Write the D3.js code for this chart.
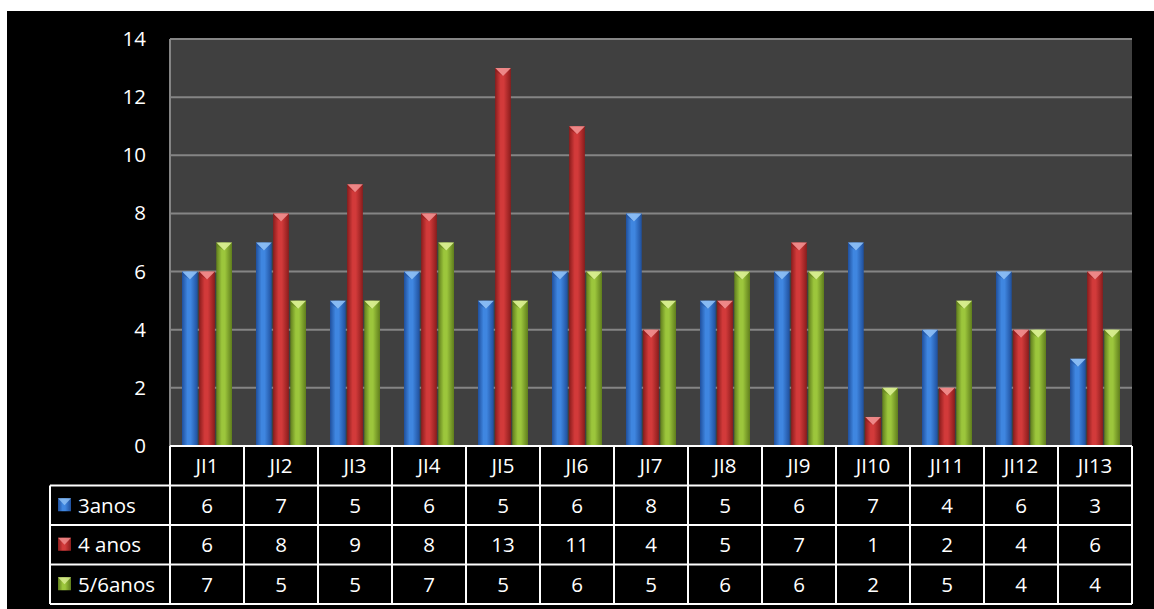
<!DOCTYPE html>
<html>
<head>
<meta charset="utf-8">
<script src="https://cdn.jsdelivr.net/npm/d3@7"></script>
<style>
  body { margin: 0; background: #fff; }
  svg text { font-family: "Open Sans", Lato, sans-serif; fill: #fff; }
</style>
</head>
<body>
<div id="viz"></div>
<script>
const categories = ["JI1","JI2","JI3","JI4","JI5","JI6","JI7","JI8","JI9","JI10","JI11","JI12","JI13"];
const seriesNames = ["3anos", "4 anos", "5/6anos"];
const anos3 = [6,7,5,6,5,6,8,5,6,7,4,6,3];
const anos4 = [6,8,9,8,13,11,4,5,7,1,2,4,6];
const anos56 = [7,5,5,7,5,6,5,6,6,2,5,4,4];
const yTicks = [0,2,4,6,8,10,12,14];

const series = [anos3, anos4, anos56];
const colors = [
  {dark:"#1f4f9c", mid:"#3f86e0", cap:"#8fc0f5"},
  {dark:"#8a1c1c", mid:"#d23a3a", cap:"#f19090"},
  {dark:"#5f7d1c", mid:"#9cc63c", cap:"#dcef95"}
];

const W = 1154, H = 609;
const plot = {left: 170, right: 1132, top: 39, bottom: 446};
const rowH = 39.5;
const fs = "20.5px";

const svg = d3.select("#viz").append("svg")
  .attr("width", W).attr("height", H);

// black chart background
svg.append("rect").attr("x", 7).attr("y", 11).attr("width", W - 7).attr("height", H - 11)
  .attr("fill", "#000");

const defs = svg.append("defs");
colors.forEach((c, i) => {
  const g = defs.append("linearGradient").attr("id", "grad" + i)
    .attr("x1", "0%").attr("x2", "100%").attr("y1", "0%").attr("y2", "0%");
  g.append("stop").attr("offset", "0%").attr("stop-color", c.dark);
  g.append("stop").attr("offset", "35%").attr("stop-color", c.mid);
  g.append("stop").attr("offset", "55%").attr("stop-color", c.mid);
  g.append("stop").attr("offset", "100%").attr("stop-color", c.dark);
});

const x0 = d3.scaleBand().domain(categories).range([plot.left, plot.right]);
const x1 = d3.scaleBand().domain([0,1,2]).range([0, x0.bandwidth()]).paddingOuter(0.7).paddingInner(0.08);
const y = d3.scaleLinear().domain([0, 14]).range([plot.bottom, plot.top]);

// plot area
svg.append("rect").attr("x", plot.left).attr("y", plot.top)
  .attr("width", plot.right - plot.left).attr("height", plot.bottom - plot.top)
  .attr("fill", "#404040");

// gridlines
svg.append("g").selectAll("line").data(yTicks.filter(d => d > 0)).enter().append("line")
  .attr("x1", plot.left).attr("x2", plot.right)
  .attr("y1", d => y(d)).attr("y2", d => y(d))
  .attr("stroke", "#858585").attr("stroke-width", 2);
svg.append("line").attr("x1", plot.left).attr("x2", plot.left)
  .attr("y1", plot.top).attr("y2", plot.bottom)
  .attr("stroke", "#858585").attr("stroke-width", 2);

// y axis labels
const yAxis = svg.append("g")
  .attr("transform", `translate(${plot.left - 24},0)`)
  .call(d3.axisLeft(y).tickValues(yTicks).tickSize(0).tickPadding(0));
yAxis.select(".domain").remove();
yAxis.selectAll("text").attr("fill", "#fff").style("font-size", fs)
  .style("font-family", "'Open Sans', Lato, sans-serif");

// bars
const groups = svg.append("g").selectAll("g").data(categories).enter().append("g")
  .attr("transform", d => `translate(${x0(d)},0)`);

series.forEach((vals, si) => {
  const bw = x1.bandwidth();
  groups.append("rect")
    .attr("x", x1(si))
    .attr("y", (d, i) => y(vals[i]))
    .attr("width", bw)
    .attr("height", (d, i) => y(0) - y(vals[i]))
    .attr("fill", `url(#grad${si})`);
  groups.append("path")
    .attr("d", (d, i) => {
      const t = y(vals[i]), l = x1(si);
      return `M${l},${t}L${l + bw},${t}L${l + bw / 2},${t + 8}Z`;
    })
    .attr("fill", colors[si].cap).attr("opacity", 0.9);
  groups.append("path")
    .attr("d", (d, i) => {
      const t = y(vals[i]), l = x1(si);
      return `M${l},${t}L${l + bw / 2},${t + 8}L${l},${t + 3}Z`;
    })
    .attr("fill", colors[si].dark).attr("opacity", 0.5);
});

// data table
const table = svg.append("g");
const tblTop = plot.bottom;
const lineStyle = sel => sel.attr("stroke", "#fff").attr("stroke-width", 2);

// header row text
table.selectAll(".hdr").data(categories).enter().append("text")
  .attr("x", d => x0(d) + x0.bandwidth() / 2)
  .attr("y", tblTop + rowH / 2 + 7.5)
  .attr("text-anchor", "middle").style("font-size", fs)
  .text(d => d);

series.forEach((vals, si) => {
  const rowY = tblTop + rowH * (si + 1);
  table.selectAll(".v" + si).data(categories).enter().append("text")
    .attr("x", d => x0(d) + x0.bandwidth() / 2)
    .attr("y", rowY + rowH / 2 + 7.5)
    .attr("text-anchor", "middle").style("font-size", fs)
    .text((d, i) => vals[i]);
  // legend key
  table.append("rect").attr("x", 58).attr("y", rowY + rowH / 2 - 7)
    .attr("width", 13).attr("height", 13).attr("fill", `url(#grad${si})`);
  table.append("path")
    .attr("d", `M58,${rowY + rowH / 2 - 7}L71,${rowY + rowH / 2 - 7}L64.5,${rowY + rowH / 2}Z`)
    .attr("fill", colors[si].cap).attr("opacity", 0.8);
  table.append("text").attr("x", 78).attr("y", rowY + rowH / 2 + 7.5)
    .style("font-size", fs).text(seriesNames[si]);
});

// table lines
const tblBottom = tblTop + rowH * 4;
[0,1,2,3,4].forEach(r => {
  const yy = tblTop + rowH * r;
  table.append("line").attr("x1", r === 0 ? plot.left : 50).attr("x2", plot.right)
    .attr("y1", yy).attr("y2", yy).call(lineStyle);
});
categories.forEach(c => {
  table.append("line").attr("x1", x0(c)).attr("x2", x0(c))
    .attr("y1", tblTop).attr("y2", tblBottom).call(lineStyle);
});
table.append("line").attr("x1", plot.right).attr("x2", plot.right)
  .attr("y1", tblTop).attr("y2", tblBottom).call(lineStyle);
table.append("line").attr("x1", 50).attr("x2", 50)
  .attr("y1", tblTop + rowH).attr("y2", tblBottom).call(lineStyle);
</script>
</body>
</html>
